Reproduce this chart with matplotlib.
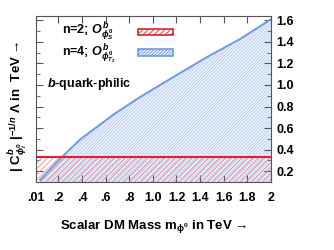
import matplotlib
matplotlib.use("Agg")
import matplotlib.pyplot as plt
from matplotlib.patches import Rectangle
from matplotlib.ticker import MultipleLocator

plt.rcParams['font.family'] = ['Liberation Sans', 'DejaVu Sans']
plt.rcParams['font.weight'] = 'bold'
plt.rcParams['mathtext.fontset'] = 'custom'
plt.rcParams['mathtext.rm'] = 'Liberation Sans:bold'
plt.rcParams['mathtext.it'] = 'Liberation Sans:bold:italic'
plt.rcParams['mathtext.bf'] = 'Liberation Sans:bold'
plt.rcParams['hatch.linewidth'] = 0.6

# data
mass_n4 = [0.044, 0.228, 0.384, 0.665, 0.894, 1.175, 1.46, 1.745, 2.0]
lam_n4 = [0.12, 0.33, 0.495, 0.725, 0.89, 1.075, 1.26, 1.43, 1.61]
lam_n2 = 0.335
xticks = [0.01, 0.2, 0.4, 0.6, 0.8, 1.0, 1.2, 1.4, 1.6, 1.8, 2.0]
xticklabels = ['.01', '.2', '.4', '.6', '.8', '1.0', '1.2', '1.4', '1.6', '1.8', '2']
yticks = [0.2, 0.4, 0.6, 0.8, 1.0, 1.2, 1.4, 1.6]

xmin, xmax = 0.01, 2.0
ymin, ymax = 0.1, 1.64

fig = plt.figure(figsize=(3.34, 2.5), dpi=100)
ax = fig.add_axes([0.108, 0.272, 0.703, 0.664])

blue = '#6b9be8'
red = '#e0202a'

# blue region
ax.fill_between(mass_n4, ymin, lam_n4, facecolor='#edf2fb', edgecolor='#b5cbf0',
                hatch='//////////', linewidth=0, zorder=1)
ax.plot(mass_n4, lam_n4, color=blue, lw=1.4, zorder=3)

# red region
ax.add_patch(Rectangle((xmin, ymin), xmax - xmin, lam_n2 - ymin, facecolor='none',
                       edgecolor='#ee8a92', hatch='//////', linewidth=0, zorder=2))
ax.plot([xmin, xmax], [lam_n2, lam_n2], color=red, lw=1.5, zorder=4)

ax.set_xlim(xmin, xmax)
ax.set_ylim(ymin, ymax)
ax.set_xticks(xticks)
ax.set_xticklabels(xticklabels)
ax.yaxis.tick_right()
ax.set_yticks(yticks)
ax.set_yticklabels([f'{v:.1f}' for v in yticks])
ax.yaxis.set_minor_locator(MultipleLocator(0.1))
ax.tick_params(axis='both', which='both', direction='in', labelsize=9, colors='#555555',
               labelcolor='black', top=True, bottom=True, left=True, right=True)
ax.tick_params(axis='x', which='major', length=5, pad=7)
ax.tick_params(axis='y', which='major', length=5, pad=4)
ax.tick_params(axis='y', which='minor', length=3)
for s in ax.spines.values():
    s.set_color('#555555')
    s.set_linewidth(0.8)

ax.set_xlabel(r'Scalar DM Mass m$_{\mathbf{\phi^0}}$ in TeV →', fontsize=9.5,
              fontweight='bold', labelpad=10)
fig.text(0.055, 0.575, r'| C$^{b}_{\phi^0_i}$ |$^{-1/n}$ Λ in  TeV →', rotation=90,
         fontsize=9.5, fontweight='bold', ha='center', va='center')

# legend
ax.text(0.23, 1.50, r'n=2; $\mathit{O}^{b}_{\phi^0_S}$', fontsize=9,
        ha='left', va='center', zorder=5)
ax.text(0.23, 1.29, r'n=4; $\mathit{O}^{b}_{\phi^0_{T_2}}$', fontsize=9,
        ha='left', va='center', zorder=5)
ax.add_patch(Rectangle((0.877, 1.46), 0.29, 0.06, facecolor='white', edgecolor=red,
                       hatch='//////', lw=1.2, zorder=5))
ax.add_patch(Rectangle((0.877, 1.27), 0.29, 0.06, facecolor='#edf2fb', edgecolor=blue,
                       hatch='//////////', lw=1.2, zorder=5))
ax.text(0.1, 1.01, r'$\mathit{b}$-quark-philic', fontsize=9, ha='left', va='center',
        zorder=5)

fig.savefig('out.png', dpi=100)
